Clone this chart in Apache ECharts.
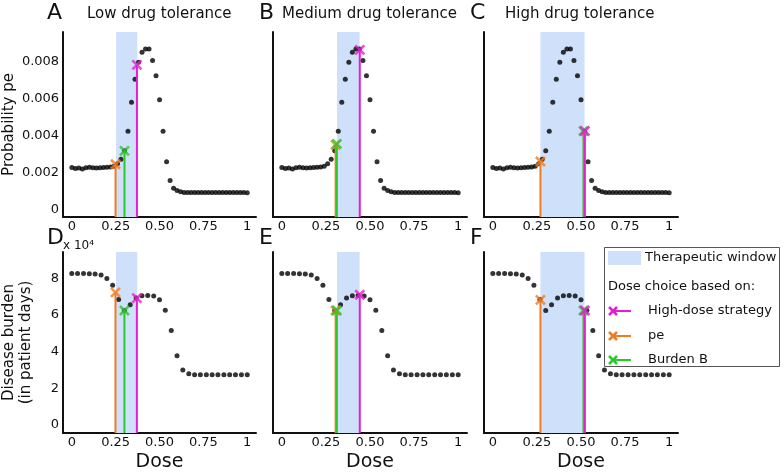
<!DOCTYPE html>
<html><head><meta charset="utf-8">
<script src="https://cdn.jsdelivr.net/npm/echarts@6/dist/echarts.min.js"></script>
<style>html,body{margin:0;padding:0;background:#fff}#c{width:784px;height:473px}</style>
</head><body><div id="c"></div>
<script>
// ---------- data ----------
const doseFine = [0,0.02,0.04,0.06,0.08,0.10,0.12,0.14,0.16,0.18,0.20,0.22,0.24,0.26,0.28,0.30,0.32,0.34,0.36,0.38,0.40,0.42,0.44,0.46,0.48,0.50,0.52,0.54,0.56,0.58,0.60,0.62,0.64,0.66,0.68,0.70,0.72,0.74,0.76,0.78,0.80,0.82,0.84,0.86,0.88,0.90,0.92,0.94,0.96,0.98,1.00];
const peValues = [0.00228,0.00222,0.00225,0.00220,0.00226,0.00229,0.00226,0.00225,0.00226,0.00227,0.00229,0.00230,0.00235,0.00248,0.00272,0.00318,0.00423,0.00580,0.00704,0.00796,0.00850,0.00868,0.00868,0.00806,0.00724,0.00594,0.00423,0.00258,0.00157,0.00115,0.00103,0.00097,0.00093,0.00092,0.00092,0.00093,0.00092,0.00092,0.00093,0.00092,0.00092,0.00093,0.00092,0.00093,0.00092,0.00092,0.00093,0.00092,0.00092,0.00092,0.00091];
const doseCoarse = [0,0.033,0.067,0.100,0.133,0.167,0.200,0.233,0.267,0.300,0.333,0.367,0.400,0.433,0.467,0.500,0.533,0.567,0.600,0.633,0.667,0.700,0.733,0.767,0.800,0.833,0.867,0.900,0.933,0.967,1.000];
const burdenValues = [82700,82700,82700,82600,82400,81900,80000,76300,68500,62500,65700,69400,70600,70700,70400,68400,62600,51600,37700,30000,27900,27400,27400,27400,27400,27400,27400,27400,27400,27400,27400];

const panelTitles = ['Low drug tolerance','Medium drug tolerance','High drug tolerance'];
const topLetters = ['A','B','C'];
const bottomLetters = ['D','E','F'];
const windowStart = [0.252,0.313,0.270];
const windowEnd = [0.373,0.441,0.520];

const choiceNames = ['pe','Burden B','High-dose strategy'];
const choiceColors = ['#f07c22','#2ac82a','#e61ed2'];
const choiceDose = [[0.249,0.305,0.270],[0.300,0.312,0.514],[0.371,0.442,0.522]];
const choicePe = [[0.00245,0.00350,0.00260],[0.00317,0.00355,0.00425],[0.00782,0.00863,0.00425]];
const choiceBurden = [[72400,62500,68300],[62500,62500,62500],[69300,71100,62500]];

const xTicks = [0,0.25,0.5,0.75,1];
const peTicks = [0,0.002,0.004,0.006,0.008];
const burdenTicks = [0,20000,40000,60000,80000];

// ---------- layout ----------
const FONT = '"DejaVu Sans", sans-serif';
const lefts = [62,273,484];
const W = 194, H = 185, TOP1 = 32, TOP2 = 252;
const PE_MIN = -0.0004, PE_MAX = 0.0096, B_MIN = -4500, B_MAX = 94500;

const grid = [], xAxis = [], yAxis = [], series = [];
const axisLine = {show:true, onZero:false, lineStyle:{color:'#111', width:2}};
function xFmt(v){ if (Math.abs(v)<1e-9) return '0'; if (Math.abs(v-1)<1e-9) return '1'; return v.toFixed(2); }

for (let r=0;r<2;r++){
  for (let c=0;c<3;c++){
    const gi = r*3+c;
    grid.push({left:lefts[c], top: r===0?TOP1:TOP2, width:W, height:H});
    xAxis.push({type:'value', gridIndex:gi, min:-0.05, max:1.05, axisLine,
      axisTick:{show:false}, splitLine:{show:false},
      axisLabel:{customValues:xTicks, formatter:xFmt, fontFamily:FONT, fontSize:13, color:'#111', margin:3},
      name: r===1?'Dose':'', nameLocation:'middle', nameGap:20,
      nameTextStyle:{fontFamily:FONT, fontSize:19, color:'#111'}});
    const isTop = r===0;
    yAxis.push({type:'value', gridIndex:gi, min: isTop?PE_MIN:B_MIN, max: isTop?PE_MAX:B_MAX, axisLine,
      axisTick:{show:false}, splitLine:{show:false},
      axisLabel:{show:c===0, customValues: isTop?peTicks:burdenTicks,
        formatter: isTop ? (v=> v===0?'0':v.toFixed(3)) : (v=> String(Math.round(v/10000))),
        fontFamily:FONT, fontSize:13, color:'#111', margin:4},
      name: c===0 ? (isTop?'Probability pe':'Disease burden\n(in patient days)') : '',
      nameLocation:'middle', nameRotate:90, nameGap: isTop?40:28,
      nameTextStyle:{fontFamily:FONT, fontSize:15, color:'#111', lineHeight:17}});
    // therapeutic window
    series.push({type:'line', xAxisIndex:gi, yAxisIndex:gi, data:[], z:1, silent:true,
      markArea:{silent:true, itemStyle:{color:'#cfe0fa'}, data:[[{xAxis:windowStart[c]},{xAxis:windowEnd[c]}]]}});
    // data points
    const xs = isTop?doseFine:doseCoarse, ys = isTop?peValues:burdenValues;
    series.push({type:'scatter', xAxisIndex:gi, yAxisIndex:gi, symbolSize:5, z:2,
      itemStyle:{color:'#000'}, data: xs.map((d,k)=>[d, ys[k]])});
    // dose choices
    for (let k=0;k<3;k++){
      const yv = isTop ? choicePe[k][c] : choiceBurden[k][c];
      const ymin = isTop ? PE_MIN : B_MIN;
      series.push({type:'line', xAxisIndex:gi, yAxisIndex:gi, symbol:'none', z:3, silent:true,
        lineStyle:{color:choiceColors[k], width:2}, data:[[choiceDose[k][c], ymin],[choiceDose[k][c], yv]]});
    }
    for (let k=0;k<3;k++){
      const yv = isTop ? choicePe[k][c] : choiceBurden[k][c];
      series.push({type:'scatter', xAxisIndex:gi, yAxisIndex:gi, z:4+k, silent:true,
        symbol:'path://M0,0L10,10M10,0L0,10', symbolSize:9,
        itemStyle:{color:'rgba(0,0,0,0)', borderColor:choiceColors[k], borderWidth:2.6},
        data:[[choiceDose[k][c], yv]]});
    }
  }
}

// ---------- texts & legend ----------
const graphic = [];
function txt(text, x, y, size, align){
  graphic.push({type:'text', z:50, style:{text, x, y, font: size+'px '+FONT, fill:'#111',
    textAlign: align||'left', textVerticalAlign:'middle'}});
}
const letterX = [47,259,470];
for (let c=0;c<3;c++){
  txt(topLetters[c], letterX[c], 13, 22);
  txt(bottomLetters[c], letterX[c], 238, 22);
}
txt(panelTitles[0], 87, 14, 15);
txt(panelTitles[1], 282, 14, 15);
txt(panelTitles[2], 505, 14, 15);
txt('x 10\u2074', 63, 246, 12);

const lg = [];
lg.push({type:'rect', shape:{x:604.5, y:247.5, width:175, height:119}, style:{fill:'#fff', stroke:'#555', lineWidth:1}});
lg.push({type:'rect', shape:{x:608, y:251, width:33, height:14}, style:{fill:'#cfe0fa'}});
lg.push({type:'text', style:{text:'Therapeutic window', x:645, y:258, font:'13px '+FONT, fill:'#111', textVerticalAlign:'middle'}});
lg.push({type:'text', style:{text:'Dose choice based on:', x:608, y:287, font:'13px '+FONT, fill:'#111', textVerticalAlign:'middle'}});
const legendOrder = [2,0,1];
const legendY = [311,336,360];
legendOrder.forEach((k,i)=>{
  const y = legendY[i], col = choiceColors[k];
  lg.push({type:'line', shape:{x1:613, y1:y, x2:631, y2:y}, style:{stroke:col, lineWidth:2}});
  lg.push({type:'line', shape:{x1:609, y1:y-4, x2:617, y2:y+4}, style:{stroke:col, lineWidth:2.5}});
  lg.push({type:'line', shape:{x1:609, y1:y+4, x2:617, y2:y-4}, style:{stroke:col, lineWidth:2.5}});
  lg.push({type:'text', style:{text:choiceNames[k], x:648, y:y, font:'13px '+FONT, fill:'#111', textVerticalAlign:'middle'}});
});
graphic.push({type:'group', z:100, children:lg});

const chart = echarts.init(document.getElementById('c'), null, {renderer:'canvas'});
chart.setOption({animation:false, backgroundColor:'#fff', grid, xAxis, yAxis, series, graphic});
</script></body></html>
